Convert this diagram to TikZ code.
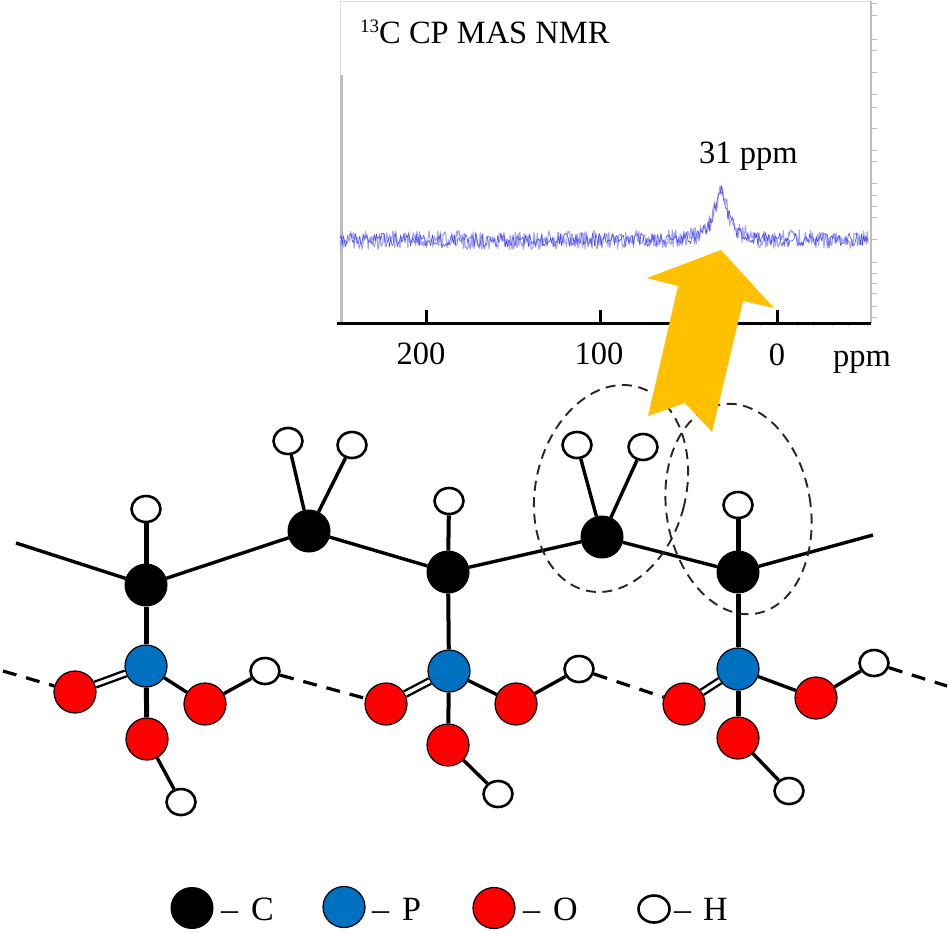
\documentclass[tikz,border=0pt]{standalone}
\usepackage{fontspec}
\setmainfont{Liberation Serif}
\usetikzlibrary{shapes.geometric}
\definecolor{pblue}{HTML}{0070C0}
\definecolor{ored}{HTML}{FF0000}
\definecolor{arrowgold}{HTML}{FFC000}
\definecolor{framegray}{HTML}{BEBEBE}
\definecolor{specdark}{HTML}{4A4AEA}
\definecolor{speclight}{HTML}{A4A4F6}
\tikzset{
  atomC/.style={circle,fill=black,draw=black,line width=1pt,minimum size=42pt,inner sep=0pt},
  atomP/.style={circle,fill=pblue,draw=black,line width=1.2pt,minimum size=42pt,inner sep=0pt},
  atomO/.style={circle,fill=ored,draw=black,line width=1.2pt,minimum size=42pt,inner sep=0pt},
  atomH/.style={ellipse,fill=white,draw=black,line width=2.6pt,minimum width=29pt,minimum height=26pt,inner sep=0pt},
  legendatom/.style={ellipse,minimum width=42pt,minimum height=41pt},
  bondthick/.style={line width=5pt},
  bond/.style={line width=3.4pt},
  bondmid/.style={line width=4pt},
  dbond/.style={line width=2.4pt,double=white,double distance=3.5pt},
  hbond/.style={line width=3.2pt,dash pattern=on 14pt off 10pt},
  halo/.style={line width=1.9pt,draw=black!85,dash pattern=on 10pt off 6.5pt},
  lab/.style={inner sep=0pt,font=\fontsize{32.5}{36}\selectfont,anchor=base west,text=black},
  labc/.style={lab,anchor=base},
  leg/.style={lab,font=\fontsize{34}{36}\selectfont},
}
\begin{document}
\begin{tikzpicture}[x=1pt,y=-1pt]
\useasboundingbox (0,0) rectangle (949,932);
% spectrum frame
\draw[framegray!50,line width=1pt] (340,75) -- (340,1) -- (871,1);
\draw[framegray,line width=1.5pt] (871,1) -- (871,323);
\draw[framegray,line width=3pt] (341,75) -- (341,322);
\foreach \t in {3,15,39,50,72,94,107,128,150,161,183,195,206,217,239,262,273,283,293,306,317}
  \draw[framegray,line width=1pt] (871,\t) -- (877,\t);
\foreach \t in {743,760,797,813,832,848,867}
  \draw[framegray!60,line width=1pt] (\t,324) -- (\t,327);
% spectrum trace
\pgfmathsetseed{4217}
\draw[speclight,line width=1.1pt,line join=round] plot[samples=600,domain=340:868]
  (\x,{240+19*(rnd-0.5)-50/(1+((\x-721)/8)^2)});
\pgfmathsetseed{991}
\draw[specdark,line width=.6pt,line join=round] plot[samples=480,domain=340:868]
  (\x,{240+14*(rnd-0.5)-48/(1+((\x-721)/8)^2)});
% axis
\draw[black,line width=3pt] (337,323) -- (871,323);
\foreach \t in {426,600,777}
  \draw[black,line width=3pt] (\t,323) -- (\t,310);
\node[lab] (title) at (360,43) {{\fontsize{19}{19}\selectfont\raisebox{11pt}{13}}C CP MAS NMR};
\node[lab] (peak) at (699,163) {31 ppm};
\node[labc] (t200) at (421,364) {200};
\node[labc] (t100) at (599,364) {100};
\node[labc] (t0) at (777,365) {0};
\node[lab] (tppm) at (833,366) {ppm};
% atoms
\node[atomC] (C1) at (146,585) {};
\node[atomC] (C2) at (309,531) {};
\node[atomC] (C3) at (448,572) {};
\node[atomC] (C4) at (602,537) {};
\node[atomC] (C5) at (738,572) {};
\node[atomH] (H1) at (146,509) {};
\node[atomH] (H2a) at (288,441) {};
\node[atomH] (H2b) at (352,445) {};
\node[atomH] (H3) at (449,501) {};
\node[atomH] (H4a) at (577,445) {};
\node[atomH] (H4b) at (643,447) {};
\node[atomH] (H5) at (738,505) {};
\node[atomP] (P1) at (146,666) {};
\node[atomP] (P3) at (449,671) {};
\node[atomP] (P5) at (738,669) {};
\node[atomO] (O1a) at (75,692) {};
\node[atomO] (O1b) at (205,704) {};
\node[atomO] (O1c) at (147,739) {};
\node[atomO] (O3a) at (386,704) {};
\node[atomO] (O3b) at (516,704) {};
\node[atomO] (O3c) at (448,745) {};
\node[atomO] (O5a) at (684,704) {};
\node[atomO] (O5b) at (816,698) {};
\node[atomO] (O5c) at (738,738) {};
\node[atomH] (H1b) at (265,671) {};
\node[atomH] (H1c) at (181,802) {};
\node[atomH] (H3b) at (579,669) {};
\node[atomH] (H3c) at (498,794) {};
\node[atomH] (H5b) at (874,663) {};
\node[atomH] (H5c) at (789,791) {};
\coordinate (chainL) at (16,543);
\coordinate (chainR) at (873,535);
\coordinate (dashL) at (3,671);
\coordinate (dashR) at (947,686);
% chain
\draw[bond] (chainL) -- (C1);
\draw[bond] (C1) -- (C2);
\draw[bond] (C2) -- (C3);
\draw[bond] (C3) -- (C4);
\draw[bond] (C4) -- (C5);
\draw[bond] (C5) -- (chainR);
\draw[bond] (C2) -- (H2a);
\draw[bond] (C2) -- (H2b);
\draw[bond] (C4) -- (H4a);
\draw[bond] (C4) -- (H4b);
\draw[bondthick] (C1) -- (H1);
\draw[bondmid] (C3) -- (H3);
\draw[bondthick] (C5) -- (H5);
\draw[bondthick] (C1) -- (P1);
\draw[bondmid] (C3) -- (P3);
\draw[bondthick] (C5) -- (P5);
% phosphonate groups
\draw[dbond] (P1) -- (O1a);
\draw[bond] (P1) -- (O1b);
\draw[bondthick] (P1) -- (O1c);
\draw[bond] (O1b) -- (H1b);
\draw[bond] (O1c) -- (H1c);
\draw[dbond] (P3) -- (O3a);
\draw[bond] (P3) -- (O3b);
\draw[bondmid] (P3) -- (O3c);
\draw[bond] (O3b) -- (H3b);
\draw[bond] (O3c) -- (H3c);
\draw[dbond] (P5) -- (O5a);
\draw[bond] (P5) -- (O5b);
\draw[bondthick] (P5) -- (O5c);
\draw[bond] (O5b) -- (H5b);
\draw[bond] (O5c) -- (H5c);
% hydrogen bonds
\draw[hbond] (dashL) -- (O1a);
\draw[hbond] (H1b) -- (O3a);
\draw[hbond] (H3b) -- (O5a);
\draw[hbond] (H5b) -- (dashR);
% dashed ellipses
\draw[halo,rotate around={-14:(611,488.5)}] (611,488.5) ellipse [x radius=75,y radius=105];
\draw[halo,rotate around={9.5:(738.5,509)}] (738.5,509) ellipse [x radius=72,y radius=106];
% arrow
\fill[arrowgold] (721,250) -- (774,308) -- (743,301) -- (712,432) -- (685,403) -- (648,416) -- (678,286) -- (647,278) -- cycle;
% legend
\node[atomC,legendatom] (LC) at (192,908) {};
\node[atomP,legendatom] (LP) at (344,907) {};
\node[atomO,legendatom] (LO) at (494,908) {};
\node[atomH,minimum width=31pt,minimum height=27pt] (LH) at (654,909) {};
\node[leg] (tC) at (221,920) {–\hspace{13pt}C};
\node[leg] (tP) at (372,920) {–\hspace{13pt}P};
\node[leg] (tO) at (523,920) {–\hspace{13pt}O};
\node[leg] (tH) at (674,920) {–\hspace{12pt}H};
\end{tikzpicture}
\end{document}
